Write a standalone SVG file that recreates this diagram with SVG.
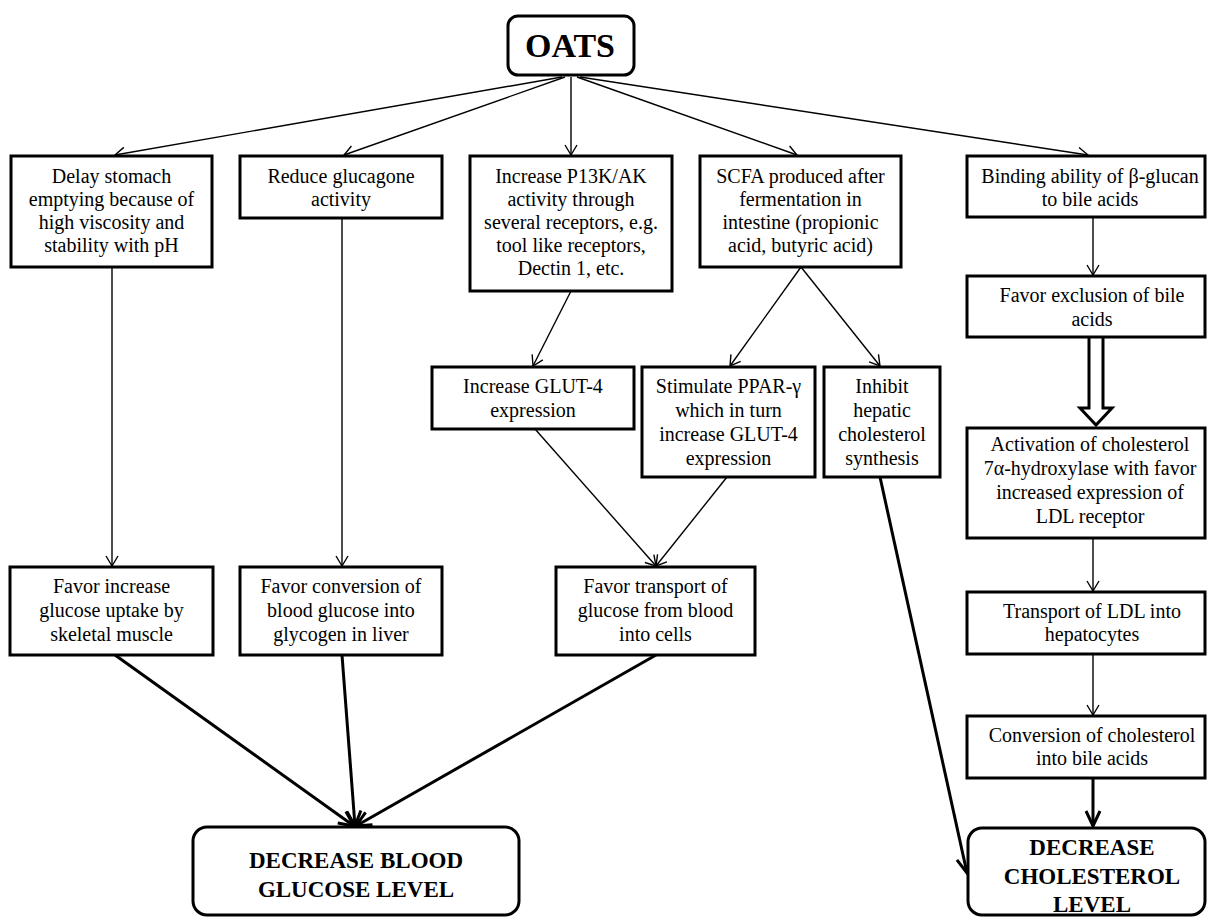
<svg xmlns="http://www.w3.org/2000/svg" width="1207" height="917" viewBox="0 0 1207 917">
<style>
.box{fill:#fff;stroke:#000;stroke-width:3}
.t{font-family:"Liberation Serif","Times New Roman",serif;font-size:20px;fill:#000;text-anchor:middle}
.b{font-family:"Liberation Serif","Times New Roman",serif;font-weight:bold;font-size:23px;fill:#000;text-anchor:middle}
.thin{stroke:#000;stroke-width:1.4;fill:none;marker-end:url(#ah)}
.thick{stroke:#000;stroke-width:3;fill:none;marker-end:url(#ahb)}
</style>
<defs>
<marker id="ah" viewBox="-12 -8 14 16" markerWidth="14" markerHeight="16" refX="0" refY="0" orient="auto" markerUnits="userSpaceOnUse"><path d="M-10,-6 L0,0 L-10,6" fill="none" stroke="#000" stroke-width="1.4"/></marker>
<marker id="ahb" viewBox="-18 -10 20 20" markerWidth="20" markerHeight="20" refX="0" refY="0" orient="auto" markerUnits="userSpaceOnUse"><path d="M-15,-7 L0,0 L-15,7" fill="none" stroke="#000" stroke-width="3"/></marker>
</defs>
<rect width="1207" height="917" fill="#fff"/>
<g id="connectors">
<line class="thin" x1="562" y1="77" x2="115" y2="155"/>
<line class="thin" x1="565" y1="77" x2="344" y2="155"/>
<line class="thin" x1="571" y1="77" x2="571" y2="155"/>
<line class="thin" x1="577" y1="77" x2="797" y2="155"/>
<line class="thin" x1="580" y1="77" x2="1088" y2="155"/>
<line class="thin" x1="112" y1="267" x2="112" y2="566"/>
<line class="thin" x1="342" y1="218" x2="342" y2="566"/>
<line class="thin" x1="571" y1="291" x2="533" y2="366"/>
<line class="thin" x1="801" y1="267" x2="730" y2="366"/>
<line class="thin" x1="801" y1="267" x2="880" y2="366"/>
<line class="thin" x1="535" y1="429" x2="656" y2="566"/>
<line class="thin" x1="727" y1="477" x2="656" y2="566"/>
<line class="thin" x1="1093" y1="217" x2="1093" y2="275"/>
<line class="thin" x1="1093" y1="538" x2="1093" y2="591"/>
<line class="thin" x1="1093" y1="654" x2="1093" y2="715"/>
<line class="thick" x1="115" y1="655" x2="354" y2="826"/>
<line class="thick" x1="342" y1="655" x2="355" y2="826"/>
<line class="thick" x1="656" y1="655" x2="356" y2="826"/>
<line class="thick" x1="880" y1="477" x2="967" y2="873"/>
<line class="thick" x1="1093" y1="778" x2="1093" y2="826"/>
<path d="M1089,337 L1089,408 L1080,408 L1096,425 L1112,408 L1103,408 L1103,337" fill="#fff" stroke="#000" stroke-width="3"/>
</g>
<g id="oats"><rect class="box" x="508" y="16" width="126" height="59" rx="10"/><text x="570" y="57" font-family="Liberation Serif, serif" font-weight="bold" font-size="34" text-anchor="middle">OATS</text></g>
<g id="delay"><rect class="box" x="11" y="156" width="201" height="111"/><text class="t" x="111.5" y="183">Delay stomach</text><text class="t" x="111.5" y="206">emptying because of</text><text class="t" x="111.5" y="229">high viscosity and</text><text class="t" x="111.5" y="252">stability with pH</text></g>
<g id="reduce"><rect class="box" x="240" y="156" width="202" height="62"/><text class="t" x="341" y="183">Reduce glucagone</text><text class="t" x="341" y="206">activity</text></g>
<g id="increase-p13k"><rect class="box" x="470" y="156" width="202" height="135"/><text class="t" x="571" y="183">Increase P13K/AK</text><text class="t" x="571" y="206">activity through</text><text class="t" x="571" y="229">several receptors, e.g.</text><text class="t" x="571" y="252">tool like receptors,</text><text class="t" x="571" y="275">Dectin 1, etc.</text></g>
<g id="scfa"><rect class="box" x="700" y="156" width="201" height="111"/><text class="t" x="800.5" y="183">SCFA produced after</text><text class="t" x="800.5" y="206">fermentation in</text><text class="t" x="800.5" y="229">intestine (propionic</text><text class="t" x="800.5" y="252">acid, butyric acid)</text></g>
<g id="binding"><rect class="box" x="967" y="156" width="238" height="61"/><text class="t" x="1090" y="183">Binding ability of β-glucan</text><text class="t" x="1090" y="206">to bile acids</text></g>
<g id="exclusion"><rect class="box" x="967" y="276" width="238" height="61"/><text class="t" x="1092" y="302">Favor exclusion of bile</text><text class="t" x="1092" y="326">acids</text></g>
<g id="activation"><rect class="box" x="967" y="428" width="238" height="110"/><text class="t" x="1090" y="451">Activation of cholesterol</text><text class="t" x="1090" y="475">7α-hydroxylase with favor</text><text class="t" x="1090" y="499">increased expression of</text><text class="t" x="1090" y="523">LDL receptor</text></g>
<g id="transport-ldl"><rect class="box" x="967" y="592" width="238" height="62"/><text class="t" x="1092" y="618">Transport of LDL into</text><text class="t" x="1092" y="641">hepatocytes</text></g>
<g id="conversion-chol"><rect class="box" x="967" y="716" width="238" height="62"/><text class="t" x="1092" y="742">Conversion of cholesterol</text><text class="t" x="1092" y="765">into bile acids</text></g>
<g id="glut4"><rect class="box" x="432" y="367" width="202" height="62"/><text class="t" x="533" y="393">Increase GLUT-4</text><text class="t" x="533" y="417">expression</text></g>
<g id="ppar"><rect class="box" x="642" y="367" width="173" height="110"/><text class="t" x="728.5" y="393">Stimulate PPAR-γ</text><text class="t" x="728.5" y="417">which in turn</text><text class="t" x="728.5" y="441">increase GLUT-4</text><text class="t" x="728.5" y="465">expression</text></g>
<g id="inhibit"><rect class="box" x="824" y="367" width="116" height="110"/><text class="t" x="882" y="393">Inhibit</text><text class="t" x="882" y="417">hepatic</text><text class="t" x="882" y="441">cholesterol</text><text class="t" x="882" y="465">synthesis</text></g>
<g id="favor-uptake"><rect class="box" x="10" y="567" width="203" height="88"/><text class="t" x="111.5" y="593">Favor increase</text><text class="t" x="111.5" y="617">glucose uptake by</text><text class="t" x="111.5" y="641">skeletal muscle</text></g>
<g id="favor-glycogen"><rect class="box" x="240" y="567" width="202" height="88"/><text class="t" x="341" y="593">Favor conversion of</text><text class="t" x="341" y="617">blood glucose into</text><text class="t" x="341" y="641">glycogen in liver</text></g>
<g id="favor-transport"><rect class="box" x="556" y="567" width="199" height="88"/><text class="t" x="655.5" y="593">Favor transport of</text><text class="t" x="655.5" y="617">glucose from blood</text><text class="t" x="655.5" y="641">into cells</text></g>
<g id="decrease-glucose"><rect class="box" x="193" y="827" width="326" height="88" rx="14"/><text class="b" x="356" y="868">DECREASE BLOOD</text><text class="b" x="356" y="897">GLUCOSE LEVEL</text></g>
<g id="decrease-cholesterol"><rect class="box" x="968" y="828" width="237" height="87" rx="14"/><text class="b" x="1092" y="855">DECREASE</text><text class="b" x="1092" y="884">CHOLESTEROL</text><text class="b" x="1092" y="912">LEVEL</text></g>
</svg>
